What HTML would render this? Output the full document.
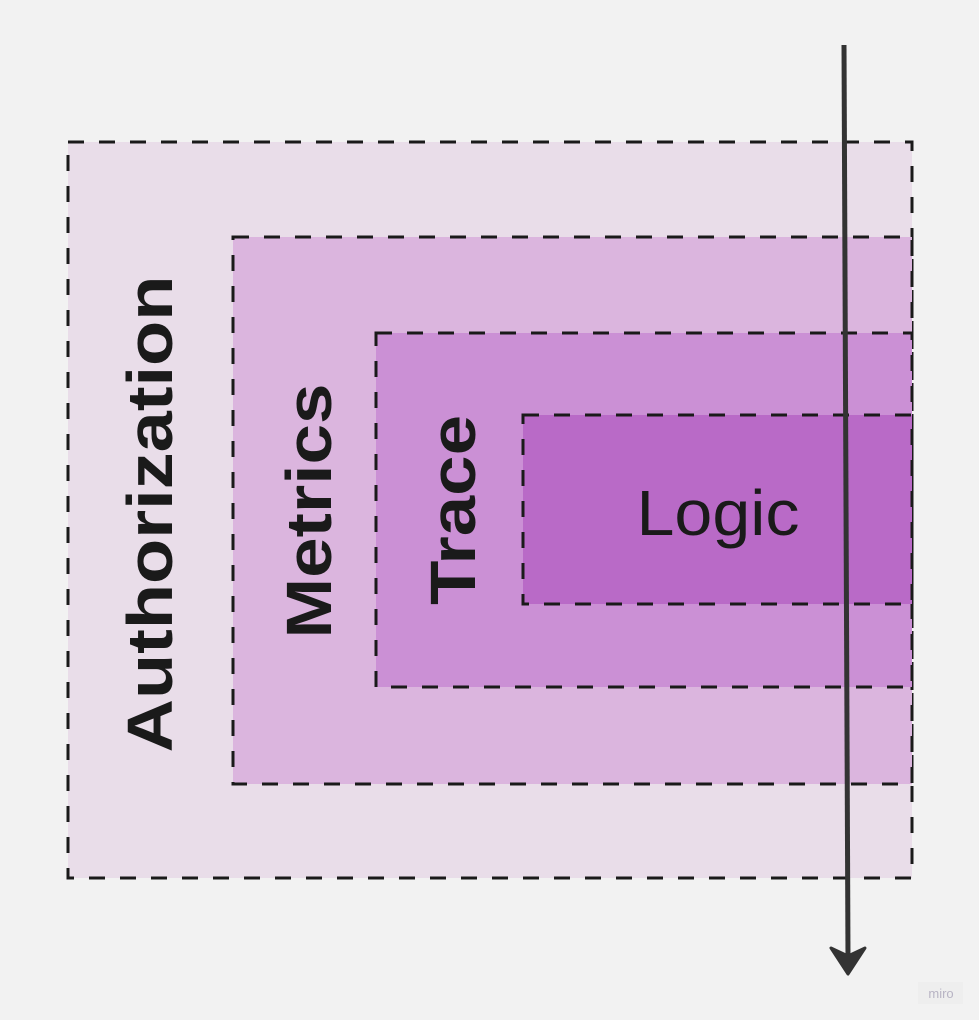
<!DOCTYPE html>
<html><head><meta charset="utf-8"><style>
html,body{margin:0;padding:0;background:#f2f2f2;}
svg{display:block;}
text{font-family:"Liberation Sans",sans-serif;fill:#1a1a1a;}
</style></head><body>
<svg width="979" height="1020" viewBox="0 0 979 1020" xmlns="http://www.w3.org/2000/svg">
<rect width="979" height="1020" fill="#f2f2f2"/>
<g stroke="#1a1a1a" stroke-width="3" stroke-dasharray="16 15">
<rect x="68" y="142" width="844" height="736" fill="#e9dde9"/>
<rect x="233" y="237" width="679" height="547" fill="#dbb5de"/>
<rect x="376" y="333" width="536" height="354" fill="#cb90d5"/>
<rect x="523" y="415" width="389" height="189" fill="#b96ac7"/>
</g>
<text transform="translate(172,514) rotate(-90)" text-anchor="middle" font-size="64" font-weight="bold" textLength="477" lengthAdjust="spacingAndGlyphs">Authorization</text>
<text transform="translate(331,511) rotate(-90)" text-anchor="middle" font-size="64" font-weight="bold" textLength="255" lengthAdjust="spacingAndGlyphs">Metrics</text>
<text transform="translate(475,510) rotate(-90)" text-anchor="middle" font-size="64" font-weight="bold" textLength="190" lengthAdjust="spacingAndGlyphs">Trace</text>
<text x="718" y="535" text-anchor="middle" font-size="64" textLength="163" lengthAdjust="spacingAndGlyphs">Logic</text>
<line x1="844" y1="45" x2="848" y2="958" stroke="#333" stroke-width="5"/>
<polygon points="831,948 848,956 865,948 848,974" fill="#333" stroke="#333" stroke-width="3" stroke-linejoin="round"/>
<rect x="918" y="982" width="45" height="22" fill="#eeeeee"/>
<text x="941" y="998" text-anchor="middle" font-size="13" style="fill:#b8b4c4">miro</text>
</svg>
</body></html>
